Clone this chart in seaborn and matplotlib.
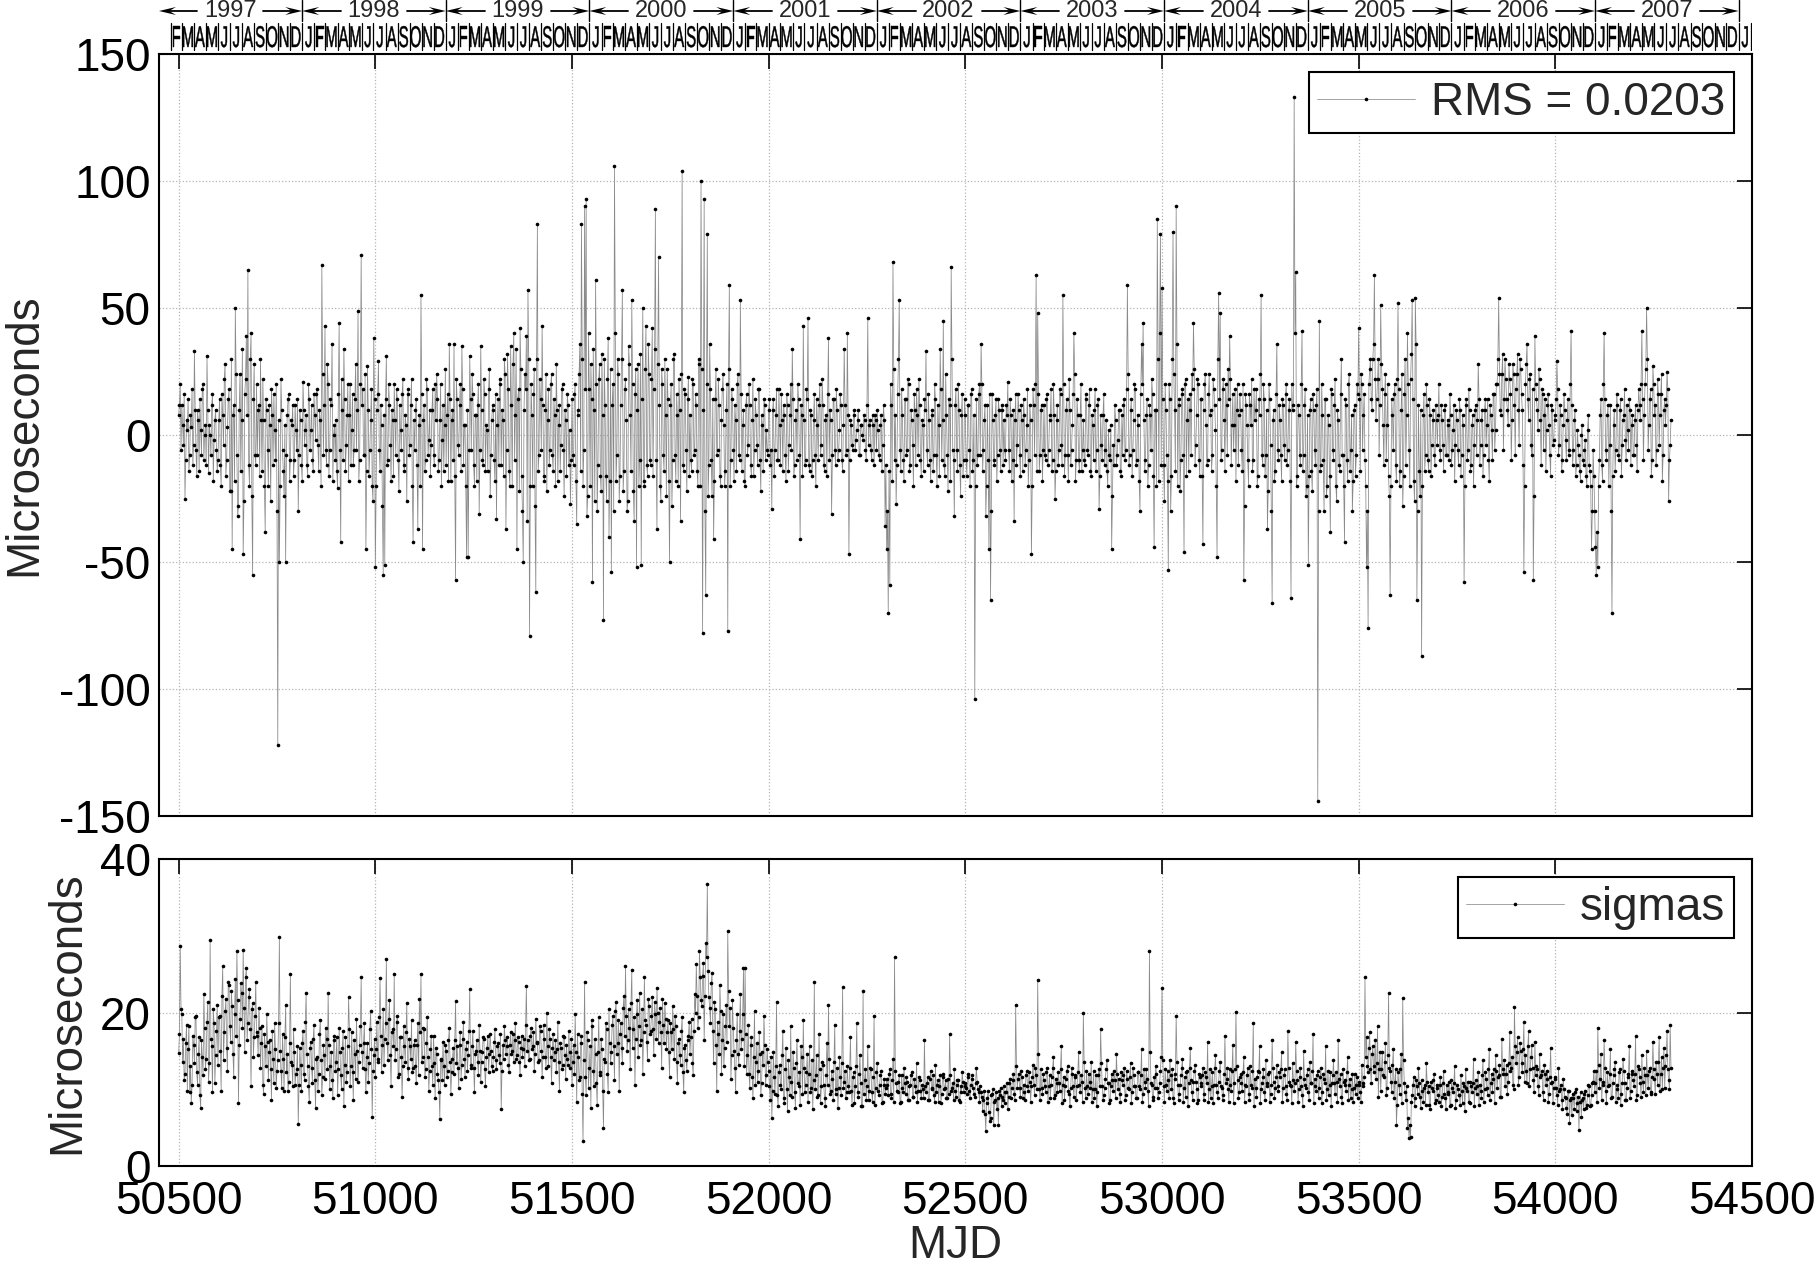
import datetime as dt

import numpy as np
import pandas as pd
import matplotlib
matplotlib.use("Agg")
import matplotlib.pyplot as plt
import matplotlib.transforms as mtransforms
import seaborn as sns
from matplotlib.font_manager import FontProperties
from matplotlib.patches import PathPatch, Polygon
from matplotlib.textpath import TextPath

# Residuals (microseconds). One row per 100-day block starting at MJD 50500 + 100*k;
# "residual_rows" holds the samples at block start + 4*j, "residual_rows_mid" those at +4*j + 2.
residual_rows = [
    [8, 20, 12, -4, -25, 6, 14, -8, 3, -12, 33, -6, 10, -14, 2, 18, -10, 4, 31, -15, 0, 12, -18, 6, -6],
    [-10, 14, -20, 8, 22, -16, 3, 18, -22, -45, 12, 50, -8, -28, 24, 6, -47, 16, 39, 65, -20, 40, -55, 28, -12],
    [-8, 12, 30, -14, 6, -38, 10, -20, 4, 18, -12, 2, 20, -122, -50, 22, -6, -24, -50, 8, 16, -10, 4, -16, 12],
    [-6, -30, 10, -12, 21, -4, 8, -16, 14, 2, -10, 16, -2, 18, -14, 6, 67, -8, 43, -12, 20, -6, 12, -18, 4],
    [6, -21, 44, -42, 10, 34, -14, 8, -18, 20, 2, -12, 14, -6, 49, -10, 71, 18, -8, -45, 27, -16, 6, -20, 38],
    [-52, 10, 29, -14, 4, -55, -51, 31, -10, 12, -18, 6, 20, -8, 14, -22, 2, 16, -12, 8, -26, 18, -4, 22, -42],
    [-6, 14, -37, 8, 55, -45, 12, -10, 18, -2, -16, 10, -8, 20, 24, -14, 6, -20, 12, 4, -12, 16, 36, -18, 10],
    [36, -57, 14, -8, 20, 35, -12, 4, -48, -48, 31, -6, 16, -20, 8, 12, -31, 35, -10, 22, -14, 2, 18, -24, 6],
    [10, -18, -33, 14, 22, -12, 6, 30, -37, 32, -14, 35, -20, 40, 8, -45, 18, 42, -16, -50, 24, 39, 57, -79, 20],
    [-20, 26, -62, 83, -8, 14, 43, -16, 10, -22, 18, -6, 24, -14, 8, 28, -18, 12, -4, 20, -24, 6, 16, -12, -27],
    [14, -12, 20, -35, 8, 36, 83, -20, 90, 93, -24, 18, 28, -58, 10, 61, -30, 22, -16, 32, -73, 12, -26, 38, -18],
    [-54, 20, 106, -18, 30, -26, 12, 57, -14, 22, -30, 35, 8, 53, -22, 16, -52, 28, -10, -51, 50, -20, 43, -16, 24],
    [-12, 42, 18, 89, -37, 70, -20, 26, -8, 30, -24, 14, -50, 20, -10, 32, -18, 8, 22, -34, 104, -14, 16, -22, 23],
    [8, -14, 20, -6, 12, -20, 28, 100, -78, 93, -63, 79, -12, 18, -24, -41, 14, -8, 22, -16, 6, 24, -20, 10, -77],
    [59, -10, 14, -18, 6, 20, -8, 53, -14, 10, -20, 16, -4, 12, -16, 22, -6, 8, -12, 18, -22, 4, 14, -10, -6],
    [10, -12, -29, 14, -6, 18, -10, 4, 16, -14, 8, -18, 12, -4, 20, 34, -16, 6, -10, 14, -41, 8, 43, -12, 18],
    [46, -14, 8, -10, 16, -20, 4, 12, -8, 22, -12, 6, -16, 38, 10, -31, 14, -6, 18, -10, 2, 12, -14, 34, -8],
    [40, -47, 6, -4, 8, -6, 2, 10, -8, 4, -2, 6, -10, 46, 4, -6, 8, -12, 6, 10, -8, 4, -14, 12, -36],
    [-45, -70, -59, 12, 68, -10, -27, 16, 53, -14, 8, -18, 14, -6, 20, -12, 6, -20, 10, 18, -8, 12, -16, 4, 14],
    [33, -12, 6, -18, 10, -8, 14, -20, 4, 34, -10, 45, -16, 8, -22, 12, 66, -6, -32, 18, -14, 10, -24, 16, -10],
    [8, -16, 12, -20, 18, -10, -104, 14, -8, 20, 36, -14, 6, -32, 12, -45, -65, 16, -10, 8, -18, 14, -6, 10, -12],
    [-6, 12, 21, -14, 8, -10, -34, 16, -4, 10, -16, 6, 14, -12, 4, -20, 12, -47, 18, -8, 63, 48, -14, 10, -18],
    [12, -10, 16, -6, 8, -14, 20, -25, 6, -12, 18, -4, 55, -16, 10, -8, 22, -12, 4, 40, -18, 14, -10, 8, -14],
    [6, -12, 14, -8, 18, -16, 4, 10, -14, 12, -29, 8, -10, 16, -6, -14, 2, -10, -45, -4, 12, -12, -2, 10, -16],
    [-8, 14, -6, 59, -12, 10, -16, 6, 18, -10, 4, -30, 36, 44, -14, 8, -20, 12, -6, 16, -44, 10, 85, -18, 79],
    [58, -12, 20, -8, -53, 14, -16, 80, 10, 90, -20, 14, -10, 18, -46, 22, 6, -14, 16, 24, 44, -12, 8, 20, -16],
    [14, -43, 20, 4, -10, 24, 10, -8, 18, 2, -48, 56, 48, -6, 22, -14, 12, 26, 39, -12, 16, 4, -18, 20, 8],
    [10, -14, -57, 16, 4, -20, 12, 22, -10, 6, 18, -16, 8, 55, -12, 14, -8, -37, 20, -4, -66, 10, -14, 36, -10],
    [6, -18, 12, -10, 20, -6, 14, -64, 10, 133, 64, -16, 8, -12, 41, -8, 18, -20, -51, 10, -14, 16, -6, 12, -144],
    [45, -12, 8, -30, 14, -20, 4, -38, 16, -10, 22, -26, 6, -14, 30, -8, -42, 12, -18, 24, -6, -30, 10, -16, 20],
    [42, -14, 20, 8, -10, -52, -76, 26, 14, 30, 63, 6, 22, -8, 51, 18, -12, 24, 4, -16, -63, 14, -6, 20, -18],
    [52, -20, 10, -28, 16, -12, 40, -6, 22, 53, -18, 54, -65, 12, -24, -87, 8, -14, 20, -10, 14, -16, 6, -8, 12],
    [-4, 20, -10, 6, -14, 12, -8, 4, 16, -12, 2, -18, 10, -6, 14, -16, 8, -58, 12, -10, 18, -14, 4, -20, 10],
    [-8, 28, -12, 6, -16, 10, -4, 14, -18, 8, -10, 16, 2, 20, 54, 10, 24, -6, 30, 14, 4, 22, -10, 28, 12],
    [18, 32, -4, 26, 10, -54, 20, 36, 6, 24, -8, -57, 39, 14, 2, 22, -12, 16, 8, -14, 12, 4, -16, 10, -2],
    [6, 29, -8, 12, -14, 4, 10, -10, 14, -6, 41, -12, 6, -16, 2, -8, -18, 4, -12, -2, -20, 8, -14, -45, -6],
    [-30, -55, -52, -10, 14, -18, 40, -6, 8, -20, 12, -70, 4, -14, 16, -8, 10, -16, 6, 18, -10, 2, 14, -12, 8],
    [-8, 12, -14, 18, 6, 41, -10, 20, 50, -6, 14, -16, 27, 8, -12, 22, -4, 16, -18, 10, 4, 25, -26, -4],
]

residual_rows_mid = [
    [12, -6, 4, 16, -10, 2, -14, 8, 18, -4, 10, -16, 6, 14, -8, 20, 0, -12, 10, 4, -8, 16, -2, 10, -14],
    [6, -12, 16, -4, 28, -10, 14, -22, 30, 8, -18, 24, -32, 10, -14, 34, -26, 22, 8, -12, 30, -24, 14, -8, 20],
    [10, -16, 6, 22, -20, 14, -6, 12, -26, 8, 16, -10, -30, 6, -20, 10, -14, 4, -8, 14, -18, 6, 12, -10, 2],
    [14, -8, 6, -18, 10, 2, -12, 20, -6, 12, -14, 8, 16, -4, 10, -20, 24, 12, -6, 28, -16, 14, 36, 0, -10],
    [-14, 16, -6, 22, -10, 14, -4, 20, 8, -12, 16, -6, 28, 10, -18, 20, 12, -8, 24, -14, 10, -6, 18, -26, 14],
    [-20, 16, -6, 12, -28, 8, 14, -12, 20, -4, 10, -16, 6, 18, -10, 12, -6, 22, -14, 4, 16, -8, 12, -20, 6],
    [10, -12, 4, -20, 16, 6, -14, 22, -8, 10, -4, 18, -12, 6, 14, -10, 20, -2, -14, 26, 8, -18, 14, 6, -10],
    [-16, 22, -4, 12, -14, 18, 4, -20, 10, -6, 14, 24, -12, 8, -18, 20, -6, 10, -12, 16, 4, -14, 26, -8, 12],
    [-10, 16, 4, -12, 20, 10, -16, 24, -6, 18, -20, 12, 28, -10, 34, 14, -22, 26, -30, 10, 18, -34, 30, -20, 8],
    [16, -28, 30, -14, 22, -6, 12, -18, 24, 6, -12, 20, -8, 14, -20, 10, 4, -14, 18, -6, 10, -16, 12, 2, -10],
    [-8, 16, -18, 10, 24, -14, 30, -6, 18, -32, 40, -20, 14, 34, -26, 20, -12, 28, -22, 8, 30, -16, 22, -40, 26],
    [12, -30, 40, -8, 24, -16, 30, -22, 18, 6, -26, 28, -14, 20, -34, 26, 10, -20, 32, 14, -18, 26, -12, 36, -10],
    [22, -16, 34, -10, 28, 12, -26, 20, -14, 8, 26, -18, 12, -28, 30, -8, 16, -20, 10, 24, -12, 18, -6, 14, -16],
    [-10, 22, -8, 16, -14, 30, -20, 26, 10, -30, 20, -24, 36, -10, 14, -18, 26, -6, 12, -20, 18, 4, -14, 20, 26],
    [-20, 18, -6, 12, -14, 24, -10, 16, 4, -18, 12, -8, 20, -12, 6, -16, 14, -4, 18, -10, 8, -14, 12, 2, -8],
    [14, -6, 10, -16, 8, -10, 18, -12, 6, 12, -8, 16, -14, 8, -6, 14, -12, 10, 20, -8, 12, -16, 6, -10, 14],
    [-12, 10, -16, 6, -8, 14, -10, 20, -4, 12, -14, 8, 16, -10, 6, -8, 14, -12, 10, -6, 16, -10, 4, 12, -6],
    [8, -10, 4, -6, 10, -2, 6, -8, 4, 0, 8, -6, 12, -4, 6, -10, 4, 8, -6, 2, -10, 8, -4, 6, -12],
    [-30, -14, 20, -18, 26, 8, -12, 30, -6, 18, -10, 14, -8, 22, -14, 10, -4, 16, -12, 8, 22, -10, 6, -14, 10],
    [-6, 16, -10, 8, -14, 20, -8, 12, -16, 18, 6, -12, 24, -8, 14, -18, 30, -10, 12, -6, 20, -12, 8, -16, 14],
    [-10, 12, -6, 16, -14, 8, -20, -12, 16, -8, 20, -6, 12, -20, -10, 16, -30, 6, -12, 14, -8, 10, -14, 12, 6],
    [-10, 8, -6, 14, -18, 10, 6, -12, 16, -8, 12, -14, 8, -6, 18, -10, 6, -20, 12, 20, -14, 16, -8, 12, -6],
    [-8, 14, -12, 6, 18, -10, 8, -14, 12, -6, 16, -12, 20, -8, 14, -18, 10, -6, 16, 24, -10, 8, -14, 20, -6],
    [-10, 16, -6, 12, -14, 8, -10, 18, -6, 14, -16, -4, 8, -12, 6, -20, -8, 4, -24, -12, 6, -8, 10, -14, 8],
    [12, -10, 18, 24, -8, 14, -6, 20, -12, 8, -18, 16, 20, 6, -10, 14, -12, 8, 22, -16, 10, -20, 30, 40, -12],
    [14, -26, 10, -18, 20, -30, 30, 24, -14, 36, 12, -22, 16, -8, 20, -16, 14, 10, -8, 18, 26, -4, 22, -10, 14],
    [-16, 10, 24, -12, 16, 8, -14, 22, 12, -20, 30, 14, -10, 18, 6, 20, -8, 14, 22, 4, -6, 18, 10, -12, 16],
    [-6, 20, -28, 12, -10, 16, 4, -14, 18, 10, -20, 14, 24, -8, 20, -16, 10, -22, 14, -30, 6, -18, 16, -6, 12],
    [-8, 14, -4, 16, -12, 10, -18, 20, 12, 40, -20, 12, -8, 20, -14, 12, -24, 8, -16, 14, -22, 10, -12, 18, -30],
    [-14, 20, -10, 14, -24, 8, -16, 18, -6, 12, -20, 10, -12, 16, -8, -20, 14, -10, 20, -14, 8, -18, 12, -8, 16],
    [14, 24, -6, 16, -20, -30, 20, 30, 10, 36, 22, 14, 30, 12, 28, 4, 16, -10, 20, -24, -20, 8, 16, -12, 22],
    [18, -14, 24, -16, 30, 8, 20, -20, 32, 14, -26, 36, -30, -14, 10, -20, 16, -8, 12, -14, 8, -4, 10, -12, 6],
    [8, -6, 12, -4, 10, -8, 6, -10, 8, -6, 12, -4, 6, -12, 10, -8, 4, -20, 14, -6, 10, -12, 8, -4, 12],
    [6, 14, -4, 10, -8, 14, 4, -10, 12, 2, 16, -6, 20, 30, 24, 8, 32, 14, 22, 10, 28, 16, 6, 24, -8],
    [24, 10, 30, 16, -12, -20, 28, 14, 22, -4, 18, -24, 20, 10, 26, 6, 18, -6, 14, 2, 16, -8, 12, -4, 8],
    [14, 18, -4, 8, -10, 16, -2, 6, -8, 20, 12, -6, 10, -12, -4, -14, 0, -10, -6, -16, 2, -12, -20, -30, -16],
    [-44, -38, -20, 8, -12, 20, 14, -10, 12, -4, -30, -16, 10, -6, 12, -10, 14, -4, 8, -2, 12, -6, 10, 4, -8],
    [6, -4, 10, 12, 20, 14, 8, 26, 30, 4, 18, -10, 20, 12, -6, 16, 8, 24, -8, 14, 12, 18, -10, 6],
]

# Formal errors (microseconds), same block layout as the residuals.
sigma_rows = [
    [14.7, 28.7, 19.8, 16.5, 12.0, 18.4, 15.2, 9.6, 8.2, 17.0, 13.4, 19.6, 10.5, 16.8, 7.5, 14.2, 22.4, 12.6, 18.8, 11.0, 29.5, 15.6, 20.4, 10.8, 17.6],
    [13.2, 19.6, 9.8, 26.0, 17.4, 21.8, 12.4, 23.6, 16.2, 20.8, 11.6, 24.4, 28.0, 8.2, 19.2, 22.6, 28.2, 14.8, 25.8, 18.6, 23.0, 10.4, 21.2, 16.8, 24.0],
    [17.4, 20.6, 12.8, 18.2, 9.4, 15.6, 19.8, 11.2, 16.4, 8.6, 14.0, 18.6, 10.2, 13.8, 29.8, 12.4, 17.2, 9.8, 21.0, 14.6, 11.0, 25.0, 13.2, 17.8, 10.6],
    [12.6, 5.5, 15.4, 9.8, 17.6, 11.2, 22.5, 13.0, 8.4, 16.2, 10.8, 18.4, 7.6, 14.2, 12.0, 19.0, 9.2, 15.8, 11.4, 16.6, 22.5, 10.0, 14.8, 8.8, 17.0],
    [13.6, 9.2, 18.0, 11.8, 15.4, 7.8, 16.8, 12.2, 22.0, 10.4, 17.4, 8.6, 14.6, 19.2, 11.0, 15.8, 24.6, 12.8, 18.6, 9.6, 16.0, 13.4, 20.2, 6.4, 14.4],
    [11.6, 18.8, 14.0, 24.5, 12.2, 20.4, 16.6, 27.0, 13.8, 21.6, 10.4, 17.8, 25.0, 15.2, 19.6, 12.0, 16.8, 9.0, 18.2, 13.6, 21.2, 11.4, 15.6, 19.0, 12.8],
    [16.4, 10.8, 18.6, 21.7, 25.0, 14.2, 17.8, 12.6, 19.4, 9.8, 15.2, 13.0, 17.0, 8.8, 14.6, 11.2, 6.1, 13.8, 16.2, 10.6, 15.0, 12.4, 18.0, 9.4, 14.0],
    [12.0, 21.5, 15.6, 10.2, 17.4, 13.2, 18.8, 11.6, 16.2, 14.4, 23.0, 12.8, 17.6, 9.6, 15.0, 13.6, 18.4, 11.0, 14.8, 16.6, 10.4, 15.4, 12.2, 17.2, 13.0],
    [14.2, 17.8, 12.6, 16.0, 13.4, 7.4, 15.8, 18.2, 14.6, 16.8, 12.2, 17.4, 15.0, 13.6, 18.6, 14.4, 16.2, 11.8, 17.0, 15.2, 13.0, 23.5, 16.4, 14.0, 18.0],
    [15.6, 12.4, 19.2, 16.0, 13.8, 17.6, 11.6, 18.4, 14.2, 20.0, 13.0, 16.6, 10.8, 17.2, 14.8, 12.2, 18.8, 9.8, 15.4, 13.2, 16.8, 11.4, 14.0, 17.6, 12.8],
    [10.6, 15.8, 19.8, 8.4, 14.2, 11.6, 17.0, 3.2, 24.0, 9.2, 16.4, 12.8, 7.6, 18.2, 10.4, 14.6, 8.0, 19.4, 11.8, 15.2, 4.9, 13.6, 17.8, 9.6, 16.0],
    [14.8, 19.6, 11.2, 21.4, 16.0, 9.8, 18.6, 13.4, 22.2, 26.0, 15.0, 20.4, 12.6, 25.6, 17.8, 10.6, 19.8, 14.2, 22.6, 16.4, 12.0, 24.6, 18.4, 13.8, 20.8],
    [17.6, 22.0, 14.4, 19.8, 23.2, 16.0, 20.6, 12.8, 18.4, 21.2, 15.2, 19.0, 11.6, 17.4, 20.8, 14.0, 18.2, 10.8, 16.6, 13.2, 19.4, 9.6, 15.8, 12.4, 17.0],
    [14.6, 19.2, 11.8, 22.4, 26.3, 18.0, 28.0, 21.6, 24.8, 16.4, 29.0, 36.8, 22.0, 18.6, 25.2, 13.4, 20.4, 9.8, 17.2, 23.6, 12.0, 19.8, 15.4, 21.0, 30.6],
    [18.2, 11.4, 21.6, 15.0, 9.6, 19.8, 13.2, 22.4, 16.6, 25.8, 25.8, 12.0, 18.4, 10.2, 16.8, 8.8, 20.2, 13.6, 11.0, 17.4, 9.2, 14.8, 19.6, 10.6, 15.2],
    [12.4, 8.6, 6.2, 14.8, 9.4, 21.4, 7.8, 13.2, 10.0, 17.6, 8.2, 15.4, 7.2, 11.6, 18.2, 9.0, 12.8, 7.6, 16.4, 10.4, 8.0, 14.2, 19.0, 9.6, 12.2],
    [8.4, 15.6, 10.2, 7.4, 24.0, 11.8, 9.0, 17.2, 8.2, 13.6, 10.6, 7.8, 16.0, 21.0, 9.4, 12.4, 8.6, 18.4, 10.0, 7.6, 14.2, 9.2, 23.3, 11.0, 8.8],
    [13.0, 9.6, 16.8, 8.0, 12.2, 10.4, 18.6, 9.0, 14.4, 7.8, 22.8, 11.2, 8.6, 15.6, 9.8, 12.6, 8.4, 19.6, 10.2, 13.4, 9.2, 11.8, 8.2, 10.6, 9.4],
    [11.4, 9.2, 12.6, 8.8, 14.0, 27.2, 10.8, 9.6, 11.8, 8.4, 10.2, 12.8, 9.4, 11.0, 8.6, 10.6, 12.2, 9.0, 10.4, 13.4, 9.8, 11.2, 8.8, 10.0, 16.4],
    [9.6, 11.6, 8.6, 12.4, 10.0, 9.2, 13.2, 10.6, 8.4, 11.8, 9.4, 12.0, 10.2, 8.8, 11.4, 17.2, 9.8, 10.8, 12.6, 9.0, 11.2, 8.6, 10.4, 12.2, 9.6],
    [10.8, 9.4, 12.0, 8.8, 11.4, 10.2, 9.0, 12.8, 10.0, 8.4, 9.6, 7.2, 9.8, 4.6, 8.8, 7.0, 6.2, 9.4, 5.4, 8.6, 7.4, 5.3, 9.2, 7.8, 8.6],
    [8.2, 9.6, 7.4, 10.8, 8.8, 11.2, 9.4, 21.0, 10.2, 12.0, 9.0, 11.6, 10.6, 8.6, 12.4, 9.8, 11.0, 10.4, 13.2, 9.2, 11.8, 24.2, 10.0, 12.6, 9.4],
    [11.2, 9.6, 12.8, 10.4, 8.8, 11.6, 14.2, 9.2, 10.8, 12.2, 9.8, 15.6, 10.6, 8.6, 11.4, 13.0, 9.4, 10.2, 12.0, 9.0, 11.8, 10.4, 14.8, 9.6, 11.0],
    [20.0, 10.2, 12.4, 9.4, 11.0, 13.6, 10.0, 8.8, 11.8, 9.6, 12.6, 17.9, 10.4, 9.2, 11.4, 13.8, 10.8, 8.6, 12.0, 9.8, 11.2, 14.6, 10.0, 9.4, 12.2],
    [10.6, 12.8, 9.2, 11.4, 10.0, 13.4, 9.6, 11.8, 10.4, 8.8, 12.2, 10.0, 15.2, 9.4, 11.0, 12.6, 9.8, 28.0, 10.8, 9.0, 11.6, 13.0, 10.2, 9.6, 12.4],
    [23.2, 10.4, 12.6, 9.8, 11.2, 13.8, 10.0, 8.8, 12.0, 19.6, 10.6, 9.4, 11.8, 14.0, 10.2, 9.0, 12.4, 10.8, 15.4, 9.6, 11.0, 13.2, 10.0, 8.6, 11.6],
    [10.4, 12.8, 9.4, 11.6, 16.2, 10.0, 8.8, 12.2, 10.6, 14.4, 9.6, 11.0, 13.6, 10.2, 9.2, 17.0, 11.4, 10.0, 12.6, 9.8, 15.8, 10.8, 20.1, 11.2, 9.6],
    [12.0, 9.8, 14.2, 10.6, 11.8, 9.4, 13.0, 10.2, 18.6, 11.4, 9.0, 12.4, 15.6, 10.0, 11.6, 9.6, 13.8, 10.8, 12.2, 9.4, 16.4, 11.0, 10.2, 13.2, 9.8],
    [11.6, 14.8, 10.2, 12.6, 9.4, 17.6, 11.0, 10.4, 13.4, 9.8, 16.2, 11.2, 10.0, 12.8, 9.2, 15.0, 10.6, 11.8, 9.6, 13.6, 10.8, 17.2, 11.4, 9.8, 12.4],
    [10.2, 12.8, 9.6, 11.4, 15.6, 10.0, 9.2, 12.2, 10.8, 13.8, 9.4, 11.0, 16.4, 10.4, 9.0, 12.6, 11.2, 9.8, 14.2, 10.6, 8.8, 12.0, 10.2, 9.4, 11.6],
    [11.0, 9.6, 13.2, 10.4, 24.6, 16.8, 12.2, 17.4, 10.8, 15.6, 13.0, 11.4, 18.2, 12.6, 9.8, 14.8, 11.6, 16.0, 10.2, 22.6, 12.4, 9.6, 15.2, 11.0, 5.3],
    [12.2, 9.4, 14.6, 21.9, 10.8, 8.6, 5.0, 3.6, 3.8, 9.2, 11.6, 8.8, 10.4, 12.8, 9.0, 11.2, 8.4, 10.6, 13.4, 9.6, 8.0, 11.0, 9.8, 12.0, 8.6],
    [10.2, 8.4, 11.6, 9.0, 12.4, 8.8, 10.6, 9.4, 7.8, 11.2, 9.6, 13.0, 8.6, 10.0, 9.2, 11.8, 8.2, 10.4, 12.6, 9.8, 8.4, 11.0, 9.6, 14.0, 10.2],
    [9.4, 12.2, 10.6, 8.8, 13.8, 10.0, 11.4, 9.2, 15.2, 10.8, 9.6, 12.6, 14.4, 10.2, 11.8, 9.0, 16.6, 12.0, 10.4, 13.2, 11.0, 17.4, 12.8, 10.6, 20.7],
    [13.4, 16.8, 11.6, 15.0, 12.2, 18.7, 14.4, 10.8, 17.6, 12.6, 15.8, 11.2, 16.2, 13.0, 10.4, 14.6, 11.8, 9.6, 13.2, 10.6, 12.4, 9.4, 15.4, 11.0, 10.2],
    [11.6, 9.2, 12.8, 10.0, 8.6, 11.4, 9.0, 7.6, 9.8, 5.6, 8.8, 9.4, 7.4, 10.0, 8.2, 4.7, 9.6, 8.6, 7.4, 9.8, 8.0, 10.6, 7.8, 9.2, 11.0],
    [9.6, 12.4, 18.0, 10.2, 14.6, 11.0, 16.4, 9.8, 12.2, 10.6, 15.2, 9.0, 11.8, 13.6, 10.0, 8.8, 12.6, 9.4, 14.0, 10.8, 8.6, 11.6, 15.6, 9.8, 12.0],
    [10.4, 17.0, 9.2, 12.6, 10.8, 14.4, 9.6, 11.8, 15.0, 10.2, 12.8, 9.4, 16.2, 11.4, 13.6, 10.6, 16.8, 12.0, 10.0, 15.4, 13.0, 17.6, 11.2, 18.4],
]

sigma_rows_mid = [
    [17.2, 20.4, 13.6, 11.2, 16.0, 9.8, 18.2, 13.0, 10.6, 15.8, 19.4, 12.2, 14.6, 9.2, 16.4, 11.8, 18.0, 14.0, 21.4, 13.4, 16.6, 9.6, 18.6, 14.4, 21.0],
    [19.4, 15.0, 22.2, 13.8, 20.2, 15.4, 24.0, 18.2, 22.8, 14.6, 19.8, 17.0, 21.6, 15.8, 23.8, 18.0, 20.6, 24.6, 16.4, 22.0, 17.8, 20.4, 14.2, 19.6, 17.0],
    [14.4, 18.0, 16.0, 10.6, 17.2, 13.0, 16.2, 14.8, 12.6, 17.6, 10.8, 15.2, 12.4, 18.6, 15.0, 10.2, 14.0, 16.8, 12.2, 9.8, 16.0, 13.6, 10.4, 14.8, 12.0],
    [15.6, 10.6, 13.2, 16.0, 12.0, 18.8, 14.6, 10.4, 15.4, 12.8, 16.6, 11.2, 14.0, 9.8, 17.2, 13.8, 11.6, 14.4, 18.0, 12.6, 15.8, 13.0, 11.2, 16.4, 12.4],
    [16.8, 12.6, 14.8, 10.0, 17.6, 13.2, 11.0, 15.6, 17.8, 13.0, 12.2, 16.4, 11.4, 15.0, 13.6, 18.2, 14.8, 16.0, 12.6, 14.2, 11.0, 17.8, 15.2, 12.4, 16.6],
    [15.2, 13.6, 19.4, 17.0, 15.8, 13.2, 18.6, 16.0, 19.2, 14.4, 17.4, 15.6, 13.8, 18.8, 11.6, 16.8, 14.2, 13.0, 15.6, 17.4, 12.8, 16.6, 14.0, 12.2, 15.8],
    [13.0, 15.8, 11.8, 17.4, 13.6, 18.0, 11.6, 16.0, 14.2, 12.4, 17.0, 10.6, 13.4, 15.4, 12.0, 9.6, 14.0, 11.2, 13.0, 15.8, 11.6, 16.4, 13.6, 12.2, 15.4],
    [16.4, 13.4, 12.8, 15.8, 11.4, 16.6, 14.0, 15.2, 12.4, 17.6, 13.2, 15.6, 12.8, 14.6, 16.4, 11.8, 15.0, 13.6, 16.8, 12.6, 14.2, 17.0, 14.6, 15.0, 12.4],
    [16.2, 13.8, 15.6, 14.4, 17.2, 12.4, 14.0, 16.4, 15.6, 13.2, 15.8, 14.6, 17.2, 16.4, 14.0, 16.8, 13.6, 15.4, 14.2, 16.6, 18.4, 15.0, 13.8, 17.0, 15.2],
    [17.4, 14.6, 16.2, 13.6, 18.2, 15.0, 14.2, 16.6, 12.8, 15.6, 17.8, 14.2, 15.4, 13.8, 16.4, 15.2, 13.6, 16.0, 12.6, 17.0, 14.4, 15.8, 13.2, 14.8, 16.6],
    [13.6, 12.0, 14.8, 17.2, 11.2, 16.0, 9.4, 13.8, 11.6, 17.4, 10.2, 15.6, 19.0, 12.4, 16.6, 10.8, 14.8, 12.2, 16.6, 9.8, 14.0, 18.6, 12.0, 20.4, 13.4],
    [18.4, 15.6, 20.2, 14.6, 19.0, 17.2, 15.4, 20.6, 17.0, 19.6, 16.4, 18.0, 21.2, 15.4, 19.4, 16.6, 21.6, 18.2, 15.8, 20.4, 17.4, 19.0, 16.2, 21.8, 17.2],
    [19.6, 17.8, 21.4, 16.6, 20.0, 18.8, 17.4, 21.8, 16.0, 19.2, 17.4, 14.8, 18.6, 15.2, 17.8, 19.6, 13.6, 16.0, 14.4, 17.6, 12.2, 15.4, 13.8, 16.4, 18.8],
    [16.8, 13.4, 17.6, 20.0, 22.2, 19.4, 24.6, 20.8, 26.4, 22.2, 27.2, 25.4, 20.6, 23.8, 17.6, 21.4, 15.8, 18.8, 14.6, 20.2, 16.4, 13.0, 18.2, 16.2, 22.8],
    [20.6, 14.4, 18.0, 12.8, 16.4, 14.6, 17.6, 15.2, 19.8, 13.0, 17.2, 14.4, 12.0, 15.8, 11.6, 14.2, 10.6, 16.0, 12.4, 14.6, 10.8, 13.2, 15.8, 11.8, 13.6],
    [10.4, 14.2, 9.8, 11.6, 13.0, 9.2, 12.2, 10.6, 14.4, 8.8, 12.6, 10.0, 13.8, 9.2, 11.0, 14.8, 9.6, 13.4, 10.8, 12.2, 15.6, 9.4, 12.8, 10.6, 14.6],
    [12.0, 9.6, 13.8, 11.2, 10.0, 14.4, 9.2, 12.6, 10.4, 13.2, 8.8, 11.8, 10.6, 14.0, 9.8, 11.4, 13.6, 9.4, 12.8, 10.2, 11.6, 13.4, 10.2, 12.4, 9.6],
    [10.4, 12.8, 9.8, 11.6, 8.2, 13.0, 9.6, 12.0, 10.8, 7.8, 9.4, 12.6, 10.4, 8.6, 12.8, 9.6, 11.6, 8.0, 12.2, 9.8, 10.6, 12.4, 8.4, 11.4, 10.2],
    [10.6, 12.0, 9.4, 11.2, 8.4, 12.4, 9.8, 11.0, 8.2, 11.8, 9.6, 10.8, 11.6, 8.6, 10.4, 11.8, 9.0, 11.4, 9.6, 8.4, 11.6, 9.8, 10.6, 8.8, 10.4],
    [10.8, 8.6, 11.4, 10.2, 11.8, 8.4, 9.6, 11.2, 10.4, 8.2, 11.6, 10.0, 11.2, 8.8, 9.4, 11.8, 10.2, 8.6, 9.8, 10.6, 11.2, 8.4, 9.6, 11.0, 10.4],
    [10.2, 11.6, 9.8, 10.6, 11.8, 9.4, 10.8, 11.0, 9.6, 10.4, 9.0, 8.6, 6.8, 8.2, 9.8, 5.8, 9.2, 10.0, 8.4, 9.6, 8.8, 9.8, 10.2, 9.0, 10.4],
    [9.6, 10.8, 9.0, 11.4, 10.2, 12.0, 8.6, 13.0, 11.4, 10.2, 12.4, 8.8, 9.6, 11.8, 10.4, 12.2, 8.4, 11.6, 10.6, 12.8, 10.0, 14.6, 8.6, 10.2, 12.0],
    [10.4, 12.2, 8.4, 11.8, 10.6, 12.8, 8.8, 11.4, 9.6, 10.8, 12.6, 8.2, 11.6, 10.4, 12.4, 9.8, 7.8, 12.8, 10.4, 11.6, 8.6, 12.2, 10.6, 11.8, 8.4],
    [13.6, 8.8, 10.4, 12.0, 10.2, 8.4, 12.4, 10.0, 7.8, 11.8, 10.4, 13.4, 8.6, 10.2, 12.6, 10.8, 8.2, 10.4, 11.2, 12.4, 8.8, 12.0, 11.4, 8.4, 11.2],
    [11.8, 8.6, 12.4, 10.2, 11.6, 8.2, 12.8, 10.4, 8.8, 12.2, 10.4, 11.8, 8.4, 12.6, 10.2, 11.4, 7.8, 14.8, 10.6, 8.6, 10.2, 12.0, 8.8, 10.8, 14.2],
    [13.8, 8.4, 10.6, 12.4, 8.8, 11.8, 12.6, 8.2, 11.4, 13.6, 8.6, 10.6, 12.8, 8.4, 11.6, 12.2, 7.8, 12.8, 11.2, 8.6, 12.4, 11.0, 8.2, 12.0, 10.8],
    [11.8, 8.6, 12.2, 10.8, 8.4, 12.6, 10.4, 8.2, 12.8, 10.6, 8.8, 12.4, 10.4, 8.6, 12.0, 10.8, 12.8, 8.4, 10.6, 12.4, 8.2, 12.6, 13.0, 8.8, 11.6],
    [10.8, 12.2, 8.4, 10.4, 12.8, 8.6, 10.6, 12.4, 7.8, 10.2, 11.6, 12.2, 8.2, 10.8, 12.6, 8.6, 10.4, 12.0, 8.4, 10.6, 12.8, 8.8, 11.6, 10.4, 12.2],
    [12.6, 8.4, 11.8, 10.4, 8.6, 12.8, 10.6, 8.2, 11.2, 10.8, 12.4, 8.4, 11.6, 10.4, 7.8, 11.4, 10.2, 12.6, 8.6, 10.8, 12.4, 8.2, 10.4, 11.8, 8.8],
    [11.6, 8.2, 12.0, 10.8, 8.6, 12.4, 10.6, 7.8, 11.8, 10.8, 12.2, 8.4, 11.4, 12.0, 8.2, 11.0, 10.6, 12.2, 8.6, 11.4, 10.0, 8.4, 12.0, 10.6, 8.8],
    [10.6, 8.4, 10.8, 11.6, 14.2, 13.0, 15.4, 12.6, 14.6, 12.2, 16.4, 13.4, 9.0, 14.8, 12.6, 11.8, 13.6, 9.2, 14.4, 12.8, 11.0, 13.2, 8.8, 12.6, 8.0],
    [10.6, 12.6, 8.2, 13.8, 9.6, 10.4, 6.2, 5.4, 8.4, 10.6, 7.8, 11.2, 9.4, 10.8, 7.6, 9.8, 10.2, 8.0, 11.0, 10.4, 7.4, 10.2, 11.2, 8.2, 10.6],
    [9.2, 10.6, 7.8, 10.8, 9.4, 7.4, 9.6, 11.0, 8.0, 10.2, 10.8, 7.6, 10.6, 9.2, 8.0, 9.8, 10.8, 7.2, 10.2, 11.0, 8.2, 10.4, 10.8, 7.8, 11.2],
    [10.4, 8.0, 9.8, 11.8, 8.4, 12.2, 10.2, 12.6, 8.6, 12.0, 11.4, 8.2, 12.4, 11.6, 13.2, 9.0, 12.6, 13.8, 12.0, 9.4, 13.4, 12.4, 14.2, 10.0, 15.6],
    [14.8, 10.6, 16.0, 13.4, 15.2, 11.0, 12.4, 15.6, 10.4, 14.2, 12.8, 9.6, 11.8, 12.6, 9.2, 11.6, 12.4, 8.6, 12.0, 11.4, 8.4, 11.6, 10.8, 8.2, 11.4],
    [10.2, 8.0, 9.8, 10.6, 7.4, 10.0, 8.8, 6.8, 9.8, 8.6, 6.6, 8.8, 9.6, 7.2, 9.0, 8.4, 6.4, 8.8, 9.4, 7.6, 9.2, 10.4, 8.0, 10.8, 12.4],
    [10.8, 8.4, 13.2, 11.4, 8.6, 10.6, 12.8, 8.2, 10.4, 12.0, 8.8, 10.8, 12.6, 8.4, 10.6, 12.2, 8.0, 10.8, 12.4, 8.6, 10.2, 12.0, 8.8, 12.4, 11.2],
    [12.0, 8.6, 13.0, 11.6, 9.0, 11.0, 12.8, 9.2, 11.8, 12.4, 9.6, 11.6, 12.6, 9.4, 12.0, 13.6, 9.8, 14.2, 12.8, 10.2, 14.4, 12.6, 10.0, 12.8],
]

rms_label = "RMS = 0.0203"
sigma_label = "sigmas"
y_label = "Microseconds"
x_label = "MJD"
x_ticks = [50500, 51000, 51500, 52000, 52500, 53000, 53500, 54000, 54500]
residual_ticks = [-150, -100, -50, 0, 50, 100, 150]
sigma_ticks = [0, 20, 40]
years = list(range(1997, 2008))
month_letters = ["J", "F", "M", "A", "M", "J", "J", "A", "S", "O", "N", "D"]

X_MIN, X_MAX = 50450, 54500
BLOCK_START, BLOCK_LEN, STEP = 50500, 100, 4


def block_frame(row_sets, name):
    parts = []
    for offset, rows in row_sets:
        for k, row in enumerate(rows):
            mjd = BLOCK_START + BLOCK_LEN * k + offset + STEP * np.arange(len(row))
            parts.append(pd.DataFrame({"MJD": mjd, name: row}))
    return pd.concat(parts, ignore_index=True).sort_values("MJD").reset_index(drop=True)


def to_mjd(year, month, day=1):
    return (dt.date(year, month, day) - dt.date(1858, 11, 17)).days


res_df = block_frame([(0, residual_rows), (2, residual_rows_mid)], "residual")
sig_df = block_frame([(0, sigma_rows), (2, sigma_rows_mid)], "sigma")

sns.set_theme(style="white")
plt.rcParams["font.family"] = ["Liberation Sans", "DejaVu Sans"]
plt.rcParams["axes.unicode_minus"] = False

W, H = 1816, 1267
fig = plt.figure(figsize=(W / 100, H / 100), dpi=100)
fig.patch.set_facecolor("white")

left, right = 159, 1752
ax1 = fig.add_axes([left / W, 1 - 816 / H, (right - left) / W, (816 - 54) / H])
ax2 = fig.add_axes([left / W, 1 - 1166 / H, (right - left) / W, (1166 - 859) / H])

line_kw = dict(color="#8a8a8a", linewidth=0.55, marker="o", markersize=2.6,
               markerfacecolor="black", markeredgecolor="black", markeredgewidth=0)

sns.lineplot(data=res_df, x="MJD", y="residual", ax=ax1, estimator=None,
             label=rms_label, **line_kw)
sns.lineplot(data=sig_df, x="MJD", y="sigma", ax=ax2, estimator=None,
             label=sigma_label, **line_kw)

FS = 33
for ax, yt, ylim in ((ax1, residual_ticks, (-150, 150)), (ax2, sigma_ticks, (0, 40))):
    ax.set_xlim(X_MIN, X_MAX)
    ax.set_ylim(*ylim)
    ax.set_xticks(x_ticks)
    ax.set_yticks(yt)
    ax.set_axisbelow(True)
    ax.grid(True, linestyle=":", color="#b4b4b4", linewidth=0.9)
    ax.tick_params(direction="in", length=11, width=1.2, top=True, right=True,
                   labelsize=FS, colors="black")
    ax.tick_params(axis="y", pad=6)
    ax.tick_params(axis="x", pad=10)
    for sp in ax.spines.values():
        sp.set_visible(True)
        sp.set_color("black")
        sp.set_linewidth(1.5)
    ax.set_ylabel(y_label, fontsize=FS)
    ax.set_xlabel("")
    leg = ax.legend(loc="upper right", fontsize=FS, frameon=True, fancybox=False,
                    framealpha=1, edgecolor="black", handlelength=2.13, numpoints=1,
                    borderpad=0.185, borderaxespad=0.4, handletextpad=0.35)
    leg.get_frame().set_linewidth(1.5)

ax1.tick_params(axis="x", labelbottom=False)
ax1.yaxis.set_label_coords(-0.071, 0.5)
ax2.yaxis.set_label_coords(-0.044, 0.5)
ax2.set_xlabel(x_label, fontsize=FS, labelpad=0)

# Calendar strip above the top panel: years with arrows, then month initials.
deco = fig.add_axes([left / W, 1 - 54 / H, (right - left) / W, 54 / H])
deco.set_xlim(X_MIN, X_MAX)
deco.set_ylim(54, 0)
deco.axis("off")

px_per_day = (right - left) / (X_MAX - X_MIN)
year_y = 11
head_len = 17 / px_per_day
head_half = 4.0
half_text = 25 / px_per_day
gap = 8 / px_per_day

for y in years:
    y0, y1 = to_mjd(y, 1, 1), to_mjd(y + 1, 1, 1)
    mid = (y0 + y1) / 2
    a0 = max(y0, X_MIN)
    deco.text(mid, year_y, str(y), ha="center", va="center", fontsize=17)
    # left arrow pointing to the start of the year
    deco.plot([a0 + head_len * 0.6, mid - half_text - gap], [year_y, year_y], color="black", lw=1.3)
    deco.add_patch(Polygon([[a0, year_y], [a0 + head_len, year_y - head_half],
                            [a0 + head_len * 0.6, year_y], [a0 + head_len, year_y + head_half]],
                           closed=True, facecolor="black", edgecolor="none"))
    # right arrow pointing to the end of the year
    deco.plot([mid + half_text + gap, y1 - head_len * 0.6], [year_y, year_y], color="black", lw=1.3)
    deco.add_patch(Polygon([[y1, year_y], [y1 - head_len, year_y - head_half],
                            [y1 - head_len * 0.6, year_y], [y1 - head_len, year_y + head_half]],
                           closed=True, facecolor="black", edgecolor="none"))
    deco.plot([y1, y1], [0, 21], color="black", lw=1.0)

fp = FontProperties(family="Liberation Sans")
days_per_em = 15 / px_per_day
px_per_em = 30.0
baseline = 47
month_starts = []
for y in range(1997, 2009):
    for m in range(1, 13):
        month_starts.append((y, m, to_mjd(y, m, 1)))

for i in range(len(month_starts) - 1):
    y, m, s = month_starts[i]
    e = month_starts[i + 1][2]
    if s < X_MIN or e > X_MAX:
        continue
    letter = month_letters[m - 1]
    path = TextPath((0, 0), letter, size=1, prop=fp)
    ext = path.get_extents()
    cx = (ext.x0 + ext.x1) / 2
    tr = (mtransforms.Affine2D().translate(-cx, 0).scale(days_per_em, -px_per_em)
          .translate((s + e) / 2, baseline) + deco.transData)
    deco.add_patch(PathPatch(path, transform=tr, facecolor="black",
                             edgecolor="black", linewidth=0.3))
    deco.plot([e, e], [23, 50], color="black", lw=0.9)
    if i == 0 or month_starts[i - 1][2] < X_MIN:
        deco.plot([s, s], [23, 50], color="black", lw=0.9)

fig.savefig("out.png", dpi=100, facecolor="white")
